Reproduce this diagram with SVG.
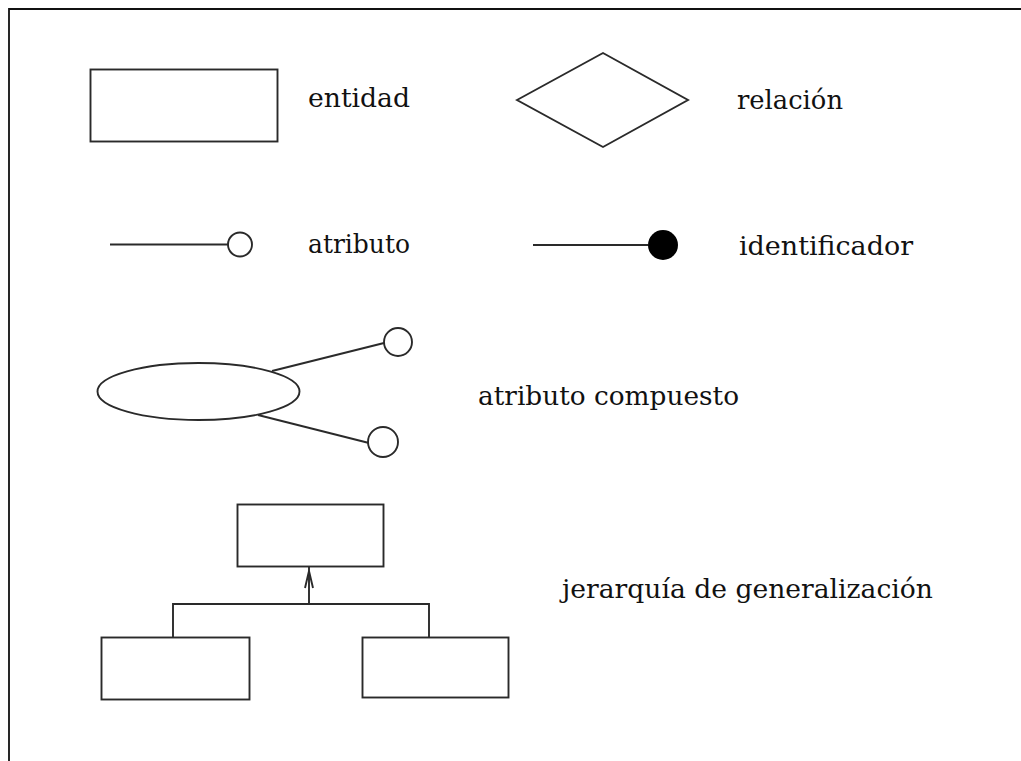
<svg xmlns="http://www.w3.org/2000/svg" width="1021" height="761" viewBox="0 0 1021 761">
<style>
.s{fill:none;stroke:#2a2a2a;stroke-width:1.9}
.w{fill:#fff;stroke:#2a2a2a;stroke-width:1.9}
.t{font-family:"DejaVu Serif","Liberation Serif",serif;font-size:26px;fill:#111}
</style>
<rect width="1021" height="761" fill="#fff"/>
<path d="M9,761 V9 H1021" fill="none" stroke="#111" stroke-width="1.8"/>
<g id="entidad">
<rect class="w" x="90.5" y="69.5" width="187" height="72"/>
<text class="t" x="308" y="107" textLength="102" lengthAdjust="spacingAndGlyphs">entidad</text>
</g>
<g id="relacion">
<polygon class="w" points="517,100 603,53 688,100 603,147"/>
<text class="t" x="737" y="109" textLength="106" lengthAdjust="spacingAndGlyphs">relación</text>
</g>
<g id="atributo">
<line class="s" x1="110" y1="244.5" x2="228" y2="244.5"/>
<circle class="w" cx="240" cy="244.5" r="12"/>
<text class="t" x="308" y="253" textLength="102" lengthAdjust="spacingAndGlyphs">atributo</text>
</g>
<g id="identificador">
<line class="s" x1="533" y1="245" x2="648" y2="245"/>
<circle cx="663" cy="245" r="15" fill="#000"/>
<text class="t" x="739" y="255" textLength="174" lengthAdjust="spacingAndGlyphs">identificador</text>
</g>
<g id="compuesto">
<ellipse class="w" cx="198.5" cy="391.5" rx="101" ry="28.5"/>
<line class="s" x1="272" y1="371" x2="384" y2="343"/>
<circle class="w" cx="398" cy="342" r="14"/>
<line class="s" x1="258" y1="415" x2="369" y2="443"/>
<circle class="w" cx="383" cy="442" r="15"/>
<text class="t" x="478" y="405" textLength="261" lengthAdjust="spacingAndGlyphs">atributo compuesto</text>
</g>
<g id="super"><rect class="w" x="237.5" y="504.5" width="146" height="62"/></g>
<g id="sub1"><rect class="w" x="101.5" y="637.5" width="148" height="62"/></g>
<g id="sub2"><rect class="w" x="362.5" y="637.5" width="146" height="60"/></g>
<g id="connectors">
<path class="s" d="M309,567 V604 M173,637 V604 H429 V637"/>
<path class="s" d="M305,588 L309,571 L313,588"/>
</g>
<text class="t" x="562" y="598" textLength="371" lengthAdjust="spacingAndGlyphs">jerarquía de generalización</text>
</svg>
